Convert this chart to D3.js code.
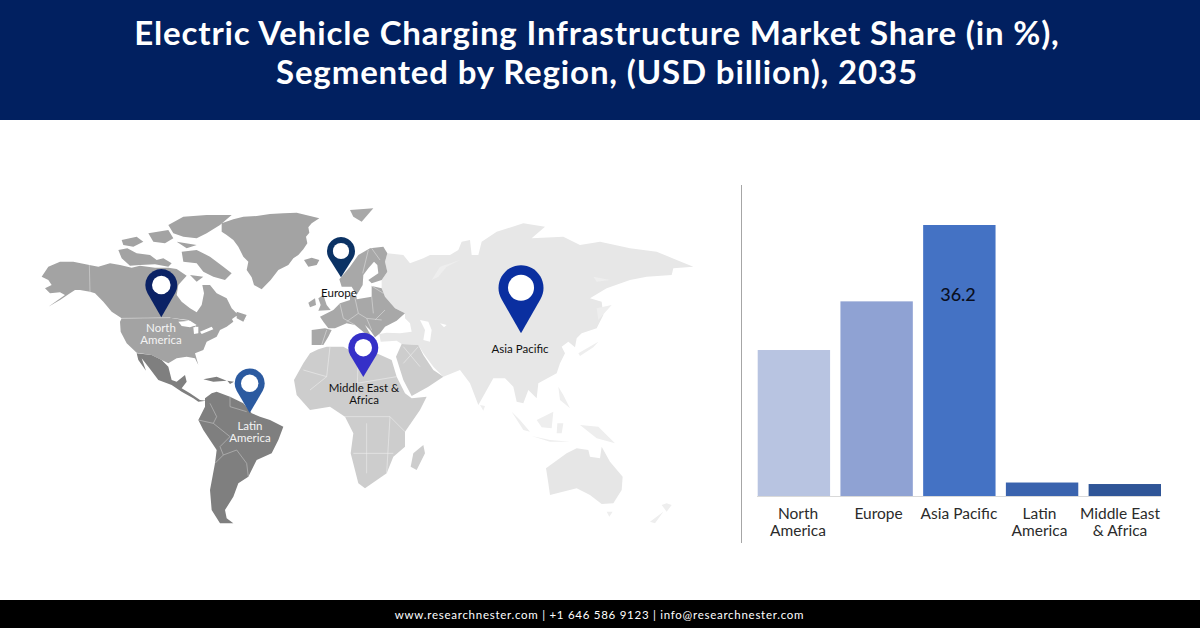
<!DOCTYPE html>
<html>
<head>
<meta charset="utf-8">
<script src="https://cdn.jsdelivr.net/npm/d3@7"></script>
<style>
  html, body { margin: 0; padding: 0; background: #fff; }
  svg { display: block; font-family: Lato, "Open Sans", sans-serif; }
</style>
</head>
<body>
<svg id="chart" width="1200" height="628"></svg>
<script>
var titleLines = ['Electric Vehicle Charging Infrastructure Market Share (in %),', 'Segmented by Region, (USD billion), 2035']
var footerText = 'www.researchnester.com | +1 646 586 9123 | info@researchnester.com'

var categories = ['North America', 'Europe', 'Asia Pacific', 'Latin America', 'Middle East & Africa']
var tickLines = [['North', 'America'], ['Europe'], ['Asia Pacific'], ['Latin', 'America'], ['Middle East', '& Africa']]
var shares = [19.5, 26, 36.2, 1.8, 1.6]
var shownValues = [null, null, 36.2, null, null]
var barColors = ['#b8c4e1', '#8fa2d3', '#4472c4', '#3a63ae', '#2f5597']

// outlines are traced in 3x map units, each block has its own origin (see the paths below)
// block "west", origin 30,190
var greenland = [[575,100],[610,88],[640,80],[680,78],[720,72],[760,70],[800,68],[868,85],[845,100],[835,112],[838,128],[828,140],[832,160],[820,178],[805,195],[790,205],[775,225],[745,240],[722,270],[695,298],[672,285],[665,262],[650,240],[655,215],[640,200],[625,170],[610,150],[590,135],[575,125]]
var iceland = [[822,210],[845,203],[868,210],[860,225],[835,230]]
var usa = [[275,385],[420,383],[475,392],[510,420],[530,395],[585,385],[600,375],[610,395],[590,410],[570,420],[560,440],[530,455],[520,480],[495,490],[505,525],[495,505],[470,500],[440,505],[415,520],[395,510],[365,495],[320,488],[290,460],[272,425],[270,395]]
var greatLakes = [[[445,395],[480,392],[500,405],[480,412],[455,408]],[[490,412],[505,410],[505,430],[492,432]],[[510,425],[545,410],[550,418],[515,432]]]
var mexicoCentral = [[320,490],[365,495],[395,510],[415,530],[425,570],[440,575],[465,555],[470,575],[455,595],[480,610],[510,630],[528,632],[505,635],[490,625],[455,605],[425,585],[385,570],[355,530],[335,505],[348,542],[325,510]]
var southAmerica = [[525,625],[545,610],[560,605],[600,620],[640,640],[665,670],[690,680],[720,690],[760,710],[745,750],[725,790],[680,810],[655,860],[625,880],[610,920],[585,960],[590,985],[610,1000],[570,1000],[545,960],[540,900],[555,820],[560,780],[540,750],[520,720],[505,690],[525,650]]
var caribbean = [[[520,568],[560,560],[590,572],[550,575]],[[592,572],[612,575],[600,582]]]
var westBorders = [
  [[540,640],[560,680],[550,700],[600,740],[570,770]], [[505,690],[550,700]], [[600,620],[600,650],[650,665]],
  [[570,770],[580,795],[620,780],[650,820],[655,860]], [[555,820],[580,795]]
]

// block "canada", origin 40,205
var canada = [[5,215],[25,185],[60,170],[100,170],[148,180],[175,185],[210,175],[240,180],[275,188],[300,182],[345,188],[385,188],[410,192],[440,212],[415,240],[410,270],[425,290],[450,310],[470,322],[485,300],[492,265],[487,240],[510,240],[530,265],[560,280],[575,310],[600,335],[622,345],[590,332],[572,345],[555,345],[530,350],[500,372],[480,380],[465,360],[445,345],[420,342],[390,338],[245,340],[215,320],[190,290],[165,265],[150,260],[120,255],[105,255],[90,265],[60,285],[25,305],[75,270],[60,262],[30,265],[15,250],[35,240],[25,225]]
var arcticIslands = [
  [[235,135],[262,130],[290,145],[330,150],[350,165],[370,160],[395,175],[385,185],[345,178],[300,180],[270,182],[245,160]],
  [[245,105],[290,95],[310,110],[280,125],[250,120]],
  [[325,85],[385,75],[400,100],[375,115],[340,110]],
  [[385,60],[430,35],[500,30],[575,30],[540,60],[500,85],[470,100],[430,95],[400,85]],
  [[425,140],[470,135],[510,155],[550,185],[575,205],[555,225],[520,215],[490,200],[470,175],[430,170]],
  [[410,110],[470,120],[440,130]],
  [[450,210],[490,215],[470,230]],
  [[590,320],[620,330],[610,350],[590,340]]
]
var canadaBorders = [[[148,180],[150,262]], [[245,340],[390,338]]]

// block "europe", origin 300,230
var scandinavia = [[118,148],[150,110],[175,75],[210,55],[250,50],[262,70],[255,95],[262,125],[245,150],[215,160],[205,150],[235,130],[232,105],[222,95],[205,115],[190,135],[188,165],[170,195],[155,170],[125,170]]
var continent = [[60,260],[100,240],[120,220],[150,210],[150,195],[170,200],[170,208],[215,200],[215,168],[245,175],[255,200],[285,235],[315,250],[290,272],[255,290],[240,310],[225,322],[210,300],[195,285],[215,320],[195,310],[165,285],[140,280],[105,295],[85,295],[70,275]]
var iberia = [[35,300],[75,295],[95,300],[85,320],[70,345],[35,345]]
var britain = [[[55,205],[70,195],[80,225],[92,240],[55,242],[62,225]],[[25,218],[45,205],[48,225],[30,232]],[[182,332],[200,330],[195,342]]]
var europeBorders = [[[120,222],[130,265],[165,285]], [[165,205],[175,250],[200,265],[245,270]], [[215,200],[220,250]], [[175,250],[140,275]], [[255,240],[225,270]], [[200,265],[215,300]], [[80,300],[65,345]], [[215,168],[250,190]], [[205,60],[188,130]], [[215,55],[240,90]]]

// block "east", origin 290,190
var svalbard = [[180,60],[250,55],[215,95],[190,80]]
var africa = [[12,570],[40,520],[60,490],[85,478],[110,470],[160,470],[205,495],[260,490],[305,510],[320,560],[345,610],[365,625],[410,620],[390,660],[345,725],[345,770],[310,800],[290,850],[225,895],[205,880],[182,790],[190,730],[165,680],[120,650],[60,660],[20,615]]
var middleEast = [[318,500],[335,462],[385,465],[400,495],[430,540],[460,560],[415,590],[365,618],[340,570]]
var madagascar = [[400,765],[405,790],[380,840],[362,830],[370,790]]
var asia = [[292,190],[340,195],[360,220],[400,205],[420,195],[480,195],[505,180],[515,155],[540,150],[545,195],[565,195],[575,155],[620,125],[700,100],[765,110],[725,145],[820,140],[870,165],[930,155],[1020,175],[1100,185],[1160,210],[1210,230],[1150,235],[1145,255],[1070,260],[1020,270],[950,295],[900,325],[935,335],[940,375],[920,415],[875,430],[860,445],[855,472],[835,455],[815,470],[825,490],[810,520],[800,550],[745,580],[740,625],[715,600],[700,640],[680,635],[670,590],[645,565],[610,565],[565,645],[540,580],[510,540],[460,560],[430,530],[400,490],[385,465],[335,462],[320,452],[272,455],[268,432],[290,428],[330,430],[365,425],[360,400],[345,385],[345,370],[315,355],[285,320],[275,295],[275,270],[292,245],[285,215]]
var caspian = [[390,390],[415,395],[425,420],[420,455],[400,450],[405,420]]
var aral = [[450,400],[470,405],[462,412]]
var blackSea = [[322,395],[345,398],[358,422],[325,426],[310,412]]
var africaBorders = [
  [[120,470],[110,560],[60,600]], [[205,495],[200,640]], [[40,540],[110,560]], [[200,580],[320,560]],
  [[165,680],[300,680],[345,725]], [[230,700],[230,850]], [[190,790],[310,790]], [[300,680],[290,850]],
  [[340,470],[390,530]], [[385,470],[340,520]]
]

// block "oceania", origin 470,340
var novaya = [[-115,-180],[-90,-220],[-30,-240],[-70,-220],[-95,-190]]
var australia = [[228,385],[290,340],[320,325],[355,330],[360,350],[390,355],[395,320],[420,365],[458,410],[455,450],[430,490],[395,492],[360,465],[320,445],[240,465],[235,430]]
var pacificIslands = [
  [[410,515],[428,515],[418,530]],
  [[575,495],[590,490],[605,495],[590,515]],
  [[540,545],[580,515],[555,550]],
  [[125,215],[150,240],[180,275],[160,270]],
  [[185,288],[240,300],[300,305],[240,305]],
  [[200,240],[250,215],[245,265],[215,262]],
  [[330,255],[385,260],[435,310],[380,295]],
  [[262,250],[280,250],[275,280],[260,280]],
  [[265,140],[280,165],[300,205],[270,180]],
  [[325,40],[385,5],[370,22],[330,48]],
  [[380,-95],[425,-105],[385,-60]],
  [[30,195],[45,198],[40,212]],
  [[370,-190],[420,-180],[380,-175]]
]

// pins: label lines and colours by region, spots in page pixels
var pinLabels = [['North', 'America'], ['Europe'], ['Asia Pacific'], ['Latin', 'America'], ['Middle East &', 'Africa']]
var pinColors = ['#0b2265', '#0b3264', '#0a2fa0', '#2b5aa0', '#3530c8']
var pinLabelColors = ['#f4f4f4', '#111', '#111', '#f4f4f4', '#111']
var pinX = [161.3, 341, 521, 249.7, 363.3]
var pinY = [285, 251, 287.7, 383.3, 347.7]
var pinR = [16, 14, 22.5, 15, 15]
var pinTip = [317.3, 277.3, 333.3, 413, 377]
var pinLabelX = [161, 339, 520, 250, 364]
var pinLabelY = [332, 297, 353, 430, 392]

var svg = d3.select('#chart')

svg.append('rect').attr('width', 1200).attr('height', 120).attr('fill', '#012060')
svg.append('rect').attr('y', 600).attr('width', 1200).attr('height', 28).attr('fill', '#000')

svg.selectAll('text.title').data(titleLines).enter()
  .append('text')
  .attr('class', 'title')
  .attr('x', 597)
  .attr('y', function(d, i) { return 45 + i*39 })
  .attr('text-anchor', 'middle')
  .attr('fill', '#fff')
  .attr('font-size', 33)
  .attr('font-weight', 700)
  .attr('letter-spacing', 0.85)
  .text(function(d) { return d })

svg.append('text')
  .attr('x', 599.5).attr('y', 619)
  .attr('text-anchor', 'middle')
  .attr('fill', '#fff')
  .attr('font-size', 11.5)
  .attr('letter-spacing', 0.73)
  .text(footerText)

// map
function block(x0, y0) {
  return d3.geoPath(d3.geoIdentity().scale(1/3).translate([x0, y0]))
}
var west = block(30, 190), canadaPath = block(40, 205), europePath = block(300, 230)
var east = block(290, 190), oceania = block(470, 340)

function closed(ring) { return ring.concat([ring[0]]) }
function lands(rings) {
  return {type: 'MultiPolygon', coordinates: rings.map(function(r) { return [closed(r)] })}
}

var map = svg.append('g').attr('class', 'map')

function drawLand(path, rings, fill) {
  map.append('path').attr('d', path(lands(rings))).attr('fill', fill)
}
function drawBorders(path, lines, stroke) {
  map.append('path')
    .attr('d', path({type: 'MultiLineString', coordinates: lines}))
    .attr('fill', 'none').attr('stroke', stroke).attr('stroke-width', 0.6)
}

drawLand(east, [asia], '#e7e7e7')
drawLand(oceania, [australia], '#e6e6e6')
drawLand(oceania, pacificIslands.concat([novaya]), '#eeeeee')
drawLand(east, [caspian, aral, blackSea], '#fff')
drawLand(east, [africa, middleEast, madagascar], '#cdcdcd')
drawLand(europePath, [continent, scandinavia, iberia].concat(britain), '#a8a8a8')
drawLand(east, [svalbard], '#a8a8a8')
drawLand(west, [greenland, iceland, usa], '#a3a3a3')
drawLand(canadaPath, [canada].concat(arcticIslands), '#a3a3a3')
drawLand(west, greatLakes, '#fff')
drawLand(west, [mexicoCentral, southAmerica].concat(caribbean), '#7f7f7f')
drawBorders(west, westBorders, '#c4c4c4')
drawBorders(canadaPath, canadaBorders, '#d8d8d8')
drawBorders(europePath, europeBorders, '#dddddd')
drawBorders(east, africaBorders, '#eeeeee')

// pins
var pinData = d3.range(categories.length)
var pins = map.selectAll('g.pin').data(pinData).enter().append('g').attr('class', 'pin')

pins.append('path')
  .attr('d', function(i) {
    var x = pinX[i], y = pinY[i], r = pinR[i], tip = pinTip[i]
    var s = r*0.87, dy = r*0.5
    return ['M', x, tip, 'L', x - s, y + dy, 'A', r, r, 0, 1, 1, x + s, y + dy, 'Z'].join(' ')
  })
  .attr('fill', function(i) { return pinColors[i] })

pins.append('circle')
  .attr('cx', function(i) { return pinX[i] })
  .attr('cy', function(i) { return pinY[i] })
  .attr('r', function(i) { return pinR[i]*0.58 })
  .attr('fill', '#fff')

pins.each(function(i) {
  var label = d3.select(this).append('text')
    .attr('text-anchor', 'middle')
    .attr('font-size', 11.5)
    .attr('fill', pinLabelColors[i])
  pinLabels[i].forEach(function(line, k) {
    label.append('tspan')
      .attr('x', pinLabelX[i])
      .attr('y', pinLabelY[i] + k*12)
      .text(line)
  })
})

// bars
var x = d3.scaleBand().domain(categories).range([757.7, 1161]).paddingInner(0.125).paddingOuter(0)
var y = d3.scaleLinear().domain([0, 36.2]).range([496, 225])
var labelX = d3.scalePoint().domain(categories).range([798, 1120])

svg.append('line')
  .attr('x1', 741.5).attr('x2', 741.5).attr('y1', 185).attr('y2', 543)
  .attr('stroke', '#a6a6a6').attr('stroke-width', 1)

svg.selectAll('rect.bar').data(shares).enter()
  .append('rect')
  .attr('class', 'bar')
  .attr('x', function(d, i) { return x(categories[i]) })
  .attr('y', function(d) { return y(d) })
  .attr('width', x.bandwidth())
  .attr('height', function(d) { return y(0) - y(d) })
  .attr('fill', function(d, i) { return barColors[i] })

svg.append('line')
  .attr('x1', 757).attr('x2', 1161).attr('y1', 496.5).attr('y2', 496.5)
  .attr('stroke', '#d9d9d9').attr('stroke-width', 1)

svg.selectAll('text.value').data(shownValues).enter()
  .filter(function(d) { return d !== null })
  .append('text')
  .attr('class', 'value')
  .attr('x', 958)
  .attr('y', 301)
  .attr('text-anchor', 'middle')
  .attr('font-size', 18)
  .attr('font-weight', 500)
  .attr('fill', '#0a0f1e')
  .text(function(d) { return d.toFixed(1) })

tickLines.forEach(function(lines, i) {
  var t = svg.append('text')
    .attr('text-anchor', 'middle')
    .attr('font-size', 15.5)
    .attr('fill', '#2b2b2b')
  lines.forEach(function(line, k) {
    t.append('tspan')
      .attr('x', labelX(categories[i]))
      .attr('y', 518.5 + k*17.5)
      .text(line)
  })
})
</script>
</body>
</html>
